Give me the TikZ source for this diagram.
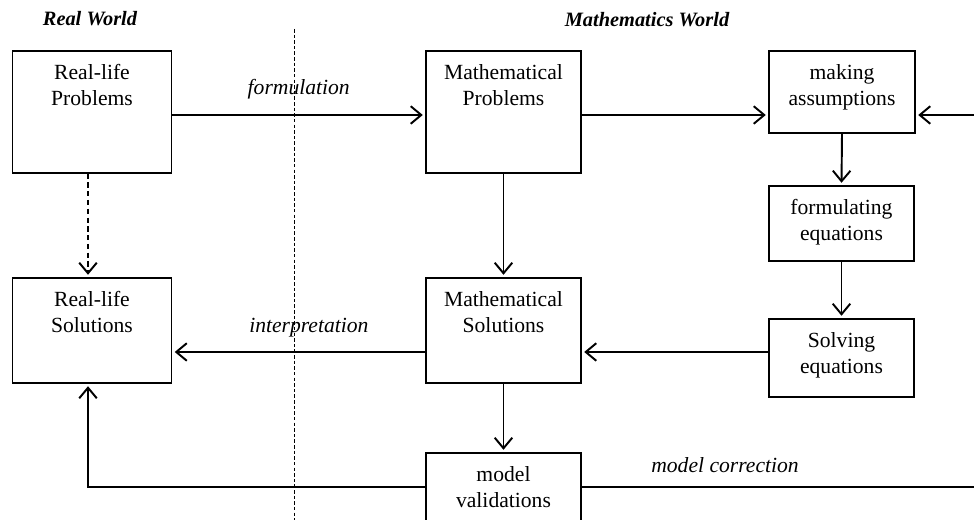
\documentclass[tikz,border=0pt]{standalone}
\usepackage{fontspec}
\setmainfont{Liberation Serif}
\usetikzlibrary{arrows.meta}
\tikzset{
  stage/.style={draw, line width=0.7pt, inner sep=0pt},
  stagetext/.style={anchor=north, align=center, inner xsep=0pt, inner ysep=7.6pt, font=\fontsize{12.3}{14.8}\selectfont},
  flow/.style={line width=1.1pt, -{Straight Barb[length=6pt,width=10pt]}, shorten >=1.5pt},
  flowlbl/.style={anchor=base, font=\fontsize{12.3}{14.8}\selectfont\itshape},
  worldlbl/.style={font=\fontsize{11.6}{14}\selectfont\bfseries\itshape}
}
\begin{document}
\begin{tikzpicture}[x=0.02cm, y=-0.02cm]
  \clip (0,0) rectangle (974,520);
  \node[worldlbl] (realw) at (90,19) {Real World};
  \node[worldlbl] (mathw) at (647,20) {Mathematics World};
  \draw[line width=0.5pt, dash pattern=on 2pt off 1.2pt] (294,29) -- (294,520);
  \node[stage, minimum width=3.18cm, minimum height=2.44cm, label={[stagetext]north:{Real-life\\Problems}}] (rlp) at (92,112) {};
  \node[stage, minimum width=3.10cm, minimum height=2.44cm, label={[stagetext]north:{Mathematical\\Problems}}] (mp) at (503.5,112) {};
  \node[stage, minimum width=2.92cm, minimum height=1.64cm, label={[stagetext]north:{making\\assumptions}}] (ma) at (842,92) {};
  \node[stage, minimum width=2.90cm, minimum height=1.50cm, label={[stagetext]north:{formulating\\equations}}] (fe) at (841.5,223.5) {};
  \node[stage, minimum width=2.90cm, minimum height=1.56cm, label={[stagetext]north:{Solving\\equations}}] (se) at (841.5,358) {};
  \node[stage, minimum width=3.18cm, minimum height=2.10cm, label={[stagetext]north:{Real-life\\Solutions}}] (rls) at (92,330.5) {};
  \node[stage, minimum width=3.10cm, minimum height=2.10cm, label={[stagetext]north:{Mathematical\\Solutions}}] (ms) at (503.5,330.5) {};
  \node[stage, minimum width=3.10cm, minimum height=2.10cm, label={[stagetext]north:{model\\validations}}] (mv) at (503.5,505.5) {};
  \coordinate (toprow) at (0,115);
  \coordinate (midrow) at (0,352);
  \coordinate (lowrow) at (0,487);
  \coordinate (leftcol) at (88,0);
  \coordinate (mcin) at (980,115);
  \coordinate (mcout) at (980,487);
  \draw[flow] (rlp.east |- toprow) -- node[flowlbl, yshift=0.41cm] {formulation} (mp.west |- toprow);
  \draw[flow] (mp.east |- toprow) -- (ma.west |- toprow);
  \draw[flow] (mcin) -- (ma.east |- toprow);
  \draw[flow] (ma.south) -- (fe.north);
  \draw[flow] (fe.south) -- (se.north);
  \draw[flow] (se.west |- midrow) -- (ms.east |- midrow);
  \draw[flow] (ms.west |- midrow) -- node[flowlbl, pos=0.46, yshift=0.39cm] {interpretation} (rls.east |- midrow);
  \draw[flow] (mp.south) -- (ms.north);
  \draw[flow] (ms.south) -- (mv.north);
  \draw[flow] (mv.west |- lowrow) -| (leftcol |- rls.south);
  \draw[line width=1.1pt] (mv.east |- lowrow) -- node[flowlbl, pos=0.36, yshift=0.29cm] {model correction} (mcout);
  \draw[flow, densely dashed] (rlp.south -| leftcol) -- (rls.north -| leftcol);
\end{tikzpicture}
\end{document}
